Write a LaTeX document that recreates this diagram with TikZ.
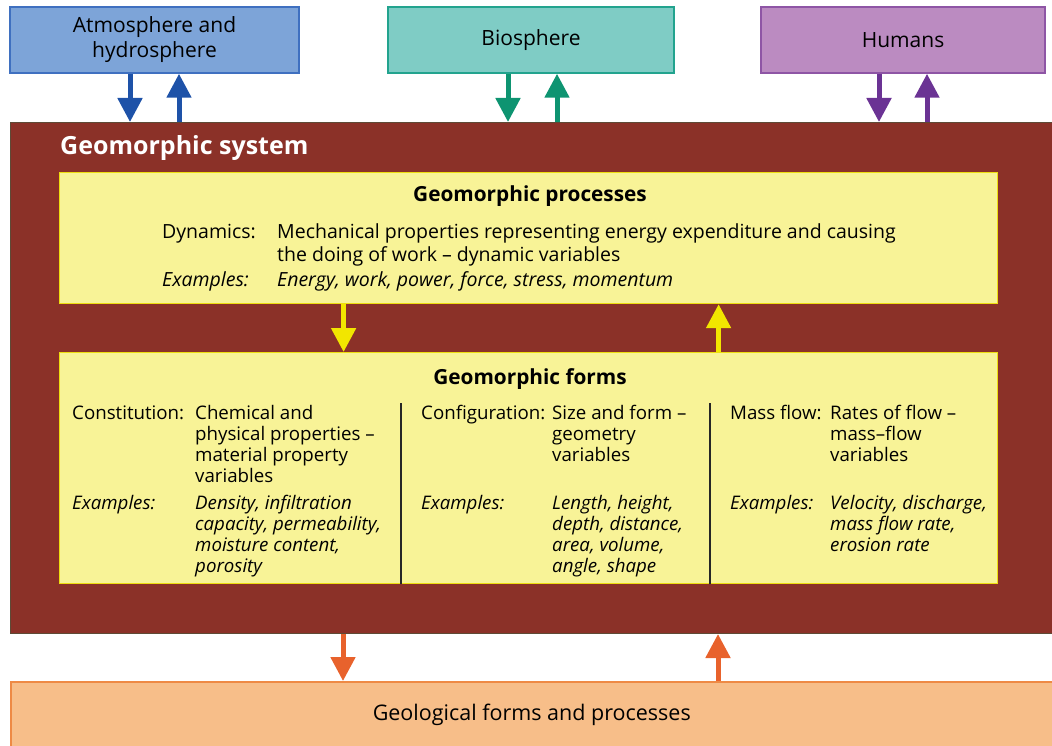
\documentclass[tikz,border=0pt]{standalone}
\usepackage{fontspec}
\setmainfont{Open Sans}
\usetikzlibrary{arrows.meta,positioning,calc}
\definecolor{sysred}{HTML}{8B3128}
\definecolor{sysline}{HTML}{5E4A36}
\definecolor{panelfill}{HTML}{F8F397}
\definecolor{panelline}{HTML}{EEDD10}
\definecolor{yarrow}{HTML}{F2E600}
\definecolor{atmfill}{HTML}{7DA4D8}
\definecolor{atmline}{HTML}{3F70C0}
\definecolor{atmarrow}{HTML}{1E52A8}
\definecolor{biofill}{HTML}{7FCCC5}
\definecolor{bioline}{HTML}{22A38E}
\definecolor{bioarrow}{HTML}{0E9471}
\definecolor{humfill}{HTML}{BB8BC1}
\definecolor{humline}{HTML}{8E55A5}
\definecolor{humarrow}{HTML}{6B3394}
\definecolor{geofill}{HTML}{F7BE89}
\definecolor{geoline}{HTML}{EE8A45}
\definecolor{geoarrow}{HTML}{E8622C}

\newcommand{\textlines}[1]{\begin{tabular}[t]{@{}l@{}}#1\end{tabular}}

\tikzset{
	topbox/.style={draw, line width=1.5pt, minimum height=66pt, inner sep=0pt, align=center, font=\fontsize{21}{25}\selectfont},
	panel/.style={draw=panelline, fill=panelfill, line width=1.2pt, inner sep=0pt, anchor=north west, minimum width=938pt},
	paneltitle/.style={anchor=base, inner sep=0pt, font=\bfseries\fontsize{20.8}{24}\selectfont},
	flow/.style={line width=5pt, -{Triangle[width=24pt,length=24pt]}},
	lab/.style={anchor=base west, inner sep=0pt, font=\fontsize{18.7}{21.3}\selectfont},
	exlab/.style={lab, font=\itshape\fontsize{18.7}{21.3}\selectfont},
	dynlab/.style={anchor=base west, inner sep=0pt, font=\fontsize{19.5}{23}\selectfont},
	divider/.style={line width=1.3pt, black!85}
}

\begin{document}
\begin{tikzpicture}[x=1pt,y=-1pt]
	\useasboundingbox (0,0) rectangle (1052,746);
	
	% Sistema
	\node[draw=sysline, fill=sysred, line width=1pt, inner sep=0pt, anchor=north west, minimum width=1050pt, minimum height=511pt] (sys) at (9.5,122) {};
	\node[anchor=base west, inner sep=0pt, text=white, font=\bfseries\fontsize{25}{29}\selectfont] (systitle) at (60,155) {Geomorphic system};
	
	% Sfere
	\node[topbox, fill=atmfill, draw=atmline, minimum width=289pt] (atm) at (154.5,40) {Atmosphere and\\hydrosphere};
	\node[topbox, fill=biofill, draw=bioline, minimum width=286pt] (bio) at (531,40) {Biosphere};
	\node[topbox, fill=humfill, draw=humline, minimum width=284pt] (hum) at (903,40) {Humans};
	
	\foreach \b/\dx/\ux/\c in {atm/-24.5/24.5/atmarrow, bio/-23/26/bioarrow, hum/-24/24/humarrow} {
		\coordinate (\b down) at ($(\b.south)+(\dx,0)$);
		\coordinate (\b up) at ($(\b.south)+(\ux,0)$);
		\draw[flow, \c] (\b down) -- (\b down |- sys.north);
		\draw[flow, \c] (\b up |- sys.north) -- (\b up);
	}
	
	% Processi
	\node[panel, minimum height=131pt] (proc) at (59,172) {};
	\node[paneltitle] (proctitle) at (530,202) {Geomorphic processes};
	\node[dynlab] (dynlab) at (162,238) {Dynamics:};
	\node[dynlab] (dyntext) at (277,238) {\textlines{Mechanical properties representing energy expenditure and causing\\the doing of work -- dynamic variables}};
	\node[dynlab, font=\itshape\fontsize{19.5}{23}\selectfont] (dynexlab) at (162,286) {Examples:};
	\node[dynlab, font=\itshape\fontsize{19.5}{23}\selectfont] (dynex) at (277,286) {Energy, work, power, force, stress, momentum};
	
	% Forme
	\node[panel, minimum height=231pt] (form) at (59,352) {};
	\node[paneltitle] (formtitle) at (530,384) {Geomorphic forms};
	
	\node[lab] (conlab) at (72,419) {Constitution:};
	\node[lab] (context) at (195,419) {\textlines{Chemical and\\physical properties --\\material property\\variables}};
	\node[exlab] (conexlab) at (72,509) {Examples:};
	\node[exlab] (conex) at (195,509) {\textlines{Density, infiltration\\capacity, permeability,\\moisture content,\\porosity}};
	
	\node[lab] (cfglab) at (421,419) {Configuration:};
	\node[lab] (cfgtext) at (552,419) {\textlines{Size and form --\\geometry\\variables}};
	\node[exlab] (cfgexlab) at (421,509) {Examples:};
	\node[exlab] (cfgex) at (552,509) {\textlines{Length, height,\\depth, distance,\\area, volume,\\angle, shape}};
	
	\node[lab] (mflab) at (730,419) {Mass flow:};
	\node[lab] (mftext) at (830,419) {\textlines{Rates of flow --\\mass--flow\\variables}};
	\node[exlab] (mfexlab) at (730,509) {Examples:};
	\node[exlab] (mfex) at (830,509) {\textlines{Velocity, discharge,\\mass flow rate,\\erosion rate}};
	
	\draw[divider] ([xshift=342pt]form.south west) -- ([xshift=342pt,yshift=-51pt]form.north west);
	\draw[divider] ([xshift=651pt]form.south west) -- ([xshift=651pt,yshift=-51pt]form.north west);
	
	% Frecce interne
	\draw[flow, yarrow] ([xshift=-185pt]proc.south) -- ([xshift=-185pt]form.north);
	\draw[flow, yarrow] ([xshift=190pt]form.north) -- ([xshift=190pt]proc.south);
	
	% Geologia
	\node[draw=geoline, fill=geofill, line width=1.5pt, inner sep=0pt, anchor=north west, minimum width=1050pt, minimum height=67pt, font=\fontsize{21.5}{25}\selectfont] (geo) at (10,681) {\hspace*{-8pt}Geological forms and processes};
	\coordinate (geodown) at ($(sys.south west)+(333.5,0)$);
	\coordinate (geoup) at ($(sys.south west)+(708.5,0)$);
	\draw[flow, geoarrow] (geodown) -- (geodown |- geo.north);
	\draw[flow, geoarrow] (geoup |- geo.north) -- (geoup);
	
\end{tikzpicture}
\end{document}
